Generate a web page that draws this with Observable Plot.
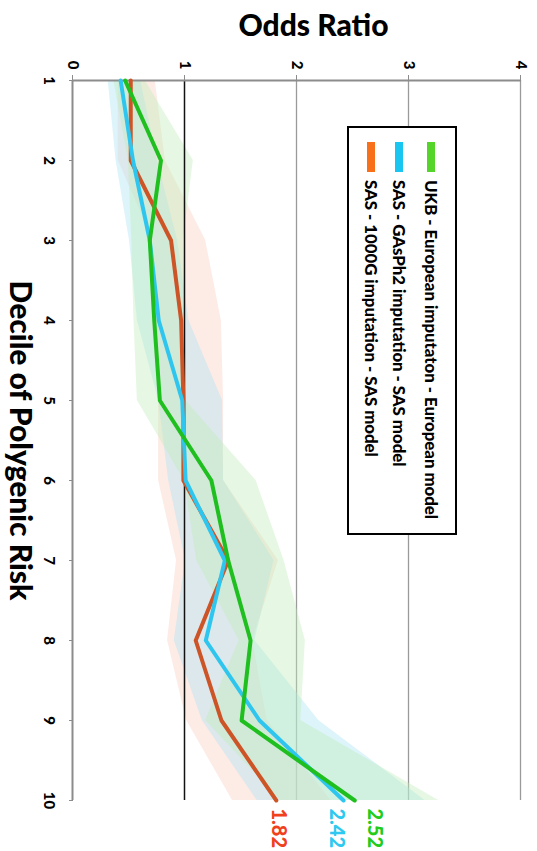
<!DOCTYPE html>
<html><head><meta charset="utf-8">
<script src="https://cdn.jsdelivr.net/npm/d3@7"></script>
<script src="https://cdn.jsdelivr.net/npm/@observablehq/plot@0.6"></script>
<style>
body{margin:0;background:#fff;width:537px;height:851px;overflow:hidden;}
#rot{position:absolute;left:0;top:0;width:851px;height:537px;transform-origin:0 0;transform:translate(537px,0) rotate(90deg);font-family:Lato,sans-serif;}
#rot svg text{font-weight:900;}
#legend{position:absolute;left:126px;top:80px;width:409px;height:110px;border:2px solid #000;background:#fff;box-sizing:border-box;}
.row{position:absolute;left:0;height:20px;width:100%;font:900 16.8px Lato,sans-serif;color:#000;}
.sw{position:absolute;left:14px;top:6px;width:30px;height:8px;}
.tx{position:absolute;left:52px;top:0;line-height:20px;white-space:nowrap;}
</style></head>
<body>
<div id="rot"><div id="chart"></div><div id="legend"></div></div>
<script>
const deciles = [1, 2, 3, 4, 5, 6, 7, 8, 9, 10];
const seriesNames = [
  "UKB - European imputaton - European model",
  "SAS - GAsPh2 imputation - SAS model",
  "SAS - 1000G imputation - SAS model"
];
// Odds ratios per decile
const ukbOR = [0.47, 0.79, 0.69, 0.73, 0.78, 1.24, 1.39, 1.59, 1.51, 2.52];
const ukbLo = [0.36, 0.49, 0.52, 0.54, 0.57, 0.99, 1.10, 1.48, 1.18, 1.85];
const ukbHi = [0.64, 1.07, 0.98, 1.00, 1.00, 1.63, 1.88, 2.07, 2.03, 3.26];
const gasOR = [0.43, 0.54, 0.69, 0.77, 0.98, 1.01, 1.36, 1.19, 1.67, 2.42];
const gasLo = [0.31, 0.38, 0.50, 0.57, 0.76, 0.85, 1.00, 0.90, 1.15, 1.64];
const gasHi = [0.60, 0.75, 0.93, 1.03, 1.33, 1.34, 1.79, 1.62, 2.19, 3.14];
const kgOR  = [0.52, 0.52, 0.88, 0.97, 0.99, 0.99, 1.39, 1.10, 1.33, 1.82];
const kgLo  = [0.40, 0.40, 0.71, 0.70, 0.76, 0.76, 0.92, 0.84, 1.01, 1.42];
const kgHi  = [0.73, 0.82, 1.18, 1.32, 1.34, 1.34, 1.83, 1.60, 1.73, 2.30];
const endLabels = ["2.52", "2.42", "1.82"];
const oddsTicks = [0, 1, 2, 3, 4];
const xTitle = "Decile of Polygenic Risk";
const yTitle = "Odds Ratio";

const styles = [
  {line: "#1fbf1f", fill: "#c0edb9", label: "#22cc18", swatch: "#55d42a", dy: -20},
  {line: "#2ec6ef", fill: "#aae3f5", label: "#2ec8f0", swatch: "#19c6f2", dy: 7},
  {line: "#cd5427", fill: "#facdc0", label: "#f0401c", swatch: "#f8711a", dy: -2}
];
const raw = [[ukbOR, ukbLo, ukbHi], [gasOR, gasLo, gasHi], [kgOR, kgLo, kgHi]];
const series = raw.map(([or, lo, hi], s) =>
  deciles.map((d, i) => ({decile: d, or: or[i], lo: lo[i], hi: hi[i], series: seriesNames[s], end: endLabels[s]})));

const bandOrder = [2, 1, 0];
const marks = [
  Plot.ruleY([2, 3, 4], {stroke: "#9a9a9a", strokeWidth: 1.3}),
  ...bandOrder.map(s => Plot.areaY(series[s], {x: "decile", y1: "lo", y2: "hi", fill: styles[s].fill, fillOpacity: 0.4})),
  Plot.ruleY([1], {stroke: "#111", strokeWidth: 1.5}),
  Plot.ruleY([0], {stroke: "#8c8c8c", strokeWidth: 2}),
  Plot.ruleX([1], {stroke: "#8c8c8c", strokeWidth: 2}),
  ...[2, 1, 0].map(s => Plot.lineY(series[s], {x: "decile", y: "or", stroke: styles[s].line, strokeWidth: 4})),
  ...[0, 1, 2].map(s => Plot.text(series[s].filter(d => d.decile === 10), {x: "decile", y: "or", text: "end", fill: styles[s].label, textAnchor: "start", dx: 8, dy: styles[s].dy, fontSize: 20})),
  Plot.axisY({ticks: oddsTicks, tickSize: 5, tickPadding: 6, stroke: "#8c8c8c", fill: "#000", label: null, fontSize: 15, tickFormat: d => String(d)}),
  Plot.axisX({ticks: deciles, tickSize: 4, tickPadding: 14, stroke: "#8c8c8c", fill: "#000", label: null, fontSize: 15, tickFormat: d => String(d)}),
  Plot.text([yTitle], {frameAnchor: "left", dx: -54, dy: -17, rotate: -90, textAnchor: "middle", lineAnchor: "middle", fontSize: 30, fill: "#000"}),
  Plot.text([xTitle], {frameAnchor: "bottom", dy: 53, textAnchor: "middle", lineAnchor: "middle", fontSize: 30, fill: "#000"})
];

const chart = Plot.plot({
  width: 851, height: 537,
  marginLeft: 80, marginRight: 51, marginTop: 16, marginBottom: 73,
  x: {domain: [1, 10]},
  y: {domain: [0, 4]},
  style: {fontFamily: "Lato, sans-serif", background: "#fff", overflow: "visible"},
  marks
});
document.getElementById("chart").append(chart);

const legend = document.getElementById("legend");
const rowTops = [14, 46, 74];
seriesNames.forEach((name, s) => {
  const row = document.createElement("div");
  row.className = "row";
  row.style.top = rowTops[s] + "px";
  const sw = document.createElement("div");
  sw.className = "sw";
  sw.style.background = styles[s].swatch;
  const tx = document.createElement("div");
  tx.className = "tx";
  tx.textContent = name;
  row.append(sw, tx);
  legend.append(row);
});
</script>
</body></html>
